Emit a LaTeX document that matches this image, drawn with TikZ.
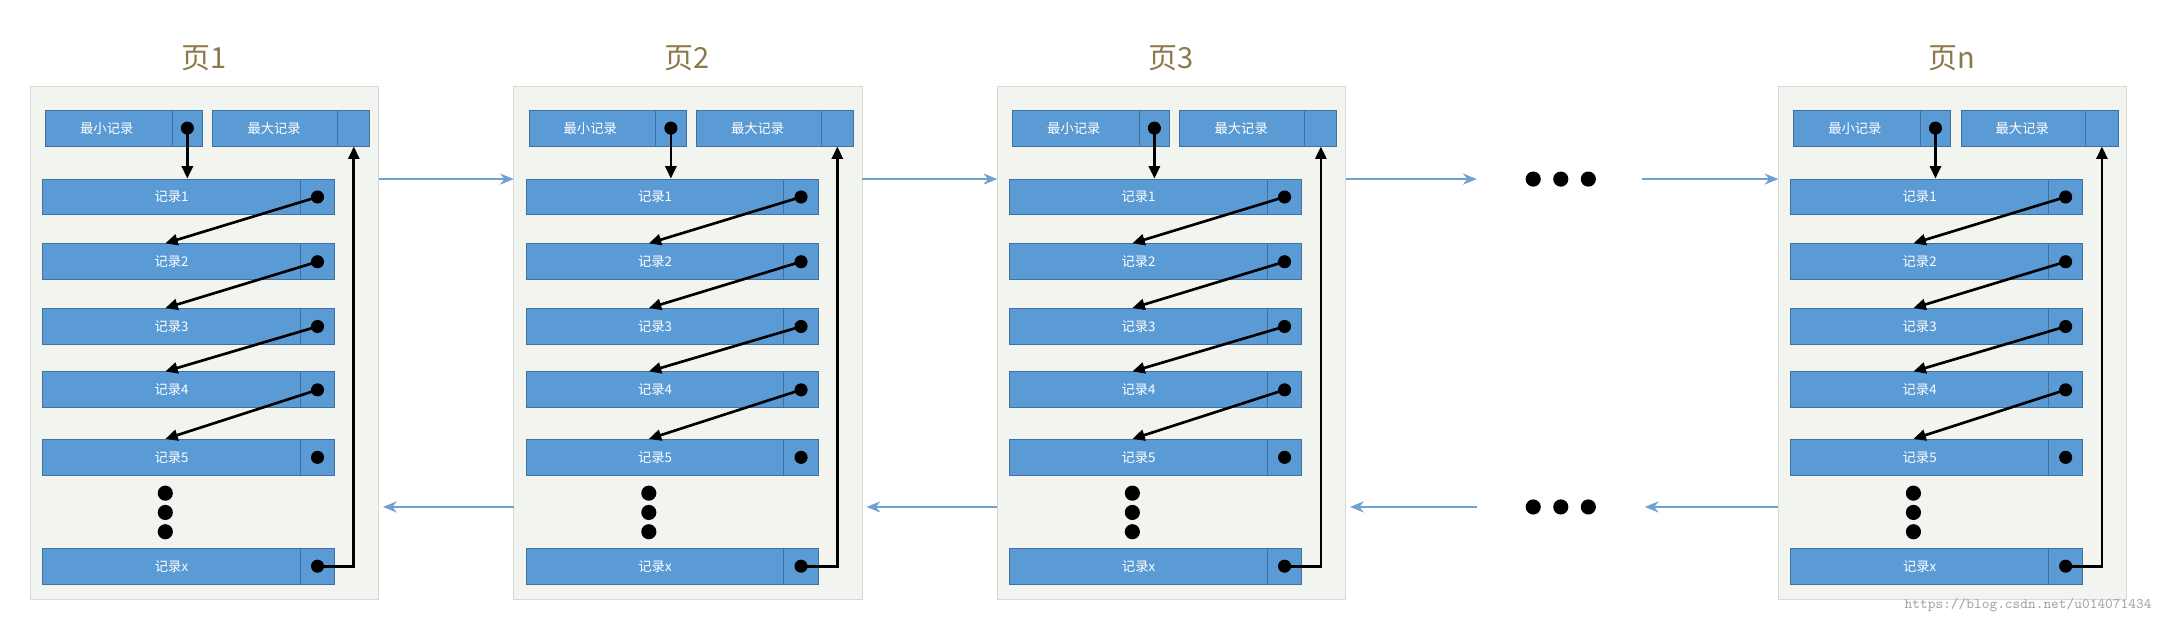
\documentclass[tikz,border=0pt]{standalone}
\usepackage{fontspec}
\setmainfont{Noto Sans CJK SC}
\usetikzlibrary{positioning,calc,arrows.meta}

\definecolor{recblue}{RGB}{91,155,213}
\definecolor{recedge}{RGB}{65,113,156}
\definecolor{pagebg}{RGB}{242,244,240}
\definecolor{pageedge}{RGB}{215,218,212}
\definecolor{linkblue}{RGB}{110,160,210}
\definecolor{titlebrown}{RGB}{140,120,75}

\tikzset{
  pagebox/.style={draw=pageedge, fill=pagebg},
  rec/.style={draw=recedge, fill=recblue, text=white, minimum width=4.24cm,
    minimum height=0.52cm, inner sep=0pt, font=\fontsize{5.5}{6}\selectfont},
  toprec/.style={rec, minimum width=2.28cm},
  ptrdot/.style={circle, fill=black, inner sep=0pt, minimum size=0.19cm},
  vdot/.style={circle, fill=black, inner sep=0pt, minimum size=0.22cm},
  ptr/.style={-{Triangle[length=0.18cm,width=0.16cm]}, line width=1.1pt},
  link/.style={-{Stealth[length=0.2cm,width=0.16cm]}, linkblue, line width=0.9pt},
  title/.style={text=titlebrown, font=\fontsize{12}{14}\selectfont},
}

% one page: #1 = x shift, #2 = title, #3 = name
\newcommand\datapage[3]{%
  \begin{scope}[xshift=#1*0.02cm]
    \draw[pagebox] (22,63) rectangle (275,435);
    \node[title] (#3t) at (148,42) {#2};
    \node[toprec] (#3min) at (90,93) {\hspace*{-0.5cm}最小记录};
    \node[toprec] (#3max) at (211.5,93) {\hspace*{-0.5cm}最大记录};
    \draw[recedge] (125,80) -- (125,106);
    \draw[recedge] (245,80) -- (245,106);
    \node[ptrdot] (#3mind) at (136,93) {};
    \foreach \i/\y in {1/143,2/190,3/237,4/283,5/332,x/411}{
      \node[rec] (#3r\i) at (137,\y) {\hspace*{-0.5cm}记录\i};
      \draw[recedge] (218,\y-13) -- (218,\y+13);
      \node[ptrdot] (#3d\i) at (230.5,\y) {};
    }
    \foreach \i/\j in {1/2,2/3,3/4,4/5}
      \draw[ptr] (#3d\i.center) -- ([xshift=-0.34cm]#3r\j.north);
    \draw[ptr] (#3mind.center) -- (#3mind |- #3r1.north);
    \coordinate (#3up) at ($(#3max.south east)+(-0.24cm,0)$);
    \draw[ptr] (#3dx.center) -| (#3up);
    \foreach \k/\y in {1/358,2/372,3/386}
      \node[vdot] (#3v\k) at (120,\y) {};
  \end{scope}}

\begin{document}
\begin{tikzpicture}[x=0.02cm, y=-0.02cm]
  \useasboundingbox (0,0) rectangle (1568,453);
  \datapage{0}{页1}{pa}
  \datapage{351}{页2}{pb}
  \datapage{702}{页3}{pc}
  \datapage{1269}{页n}{pn}
  % links between pages
  \coordinate (ra) at (275,130); \coordinate (la) at (373,130);
  \draw[link] (ra) -- (la);
  \draw[link] (626,130) coordinate (rb) -- (724,130) coordinate (lb);
  \draw[link] (977,130) coordinate (rc) -- (1072,130) coordinate (gapr);
  \draw[link] (1192,130) coordinate (gapl) -- (1291,130) coordinate (ln);
  \draw[link] (373,368) coordinate (lb2) -- (278,368) coordinate (ra2);
  \draw[link] (724,368) coordinate (lc2) -- (629,368) coordinate (rb2);
  \draw[link] (1072,368) coordinate (gapl2) -- (980,368) coordinate (rc2);
  \draw[link] (1291,368) coordinate (ln2) -- (1194,368) coordinate (gapr2);
  \foreach \x in {1113,1133,1153}{
    \node[vdot] at (\x,130) {};
    \node[vdot] at (\x,368) {};
  }
  \node[text=gray!70, font=\ttfamily\fontsize{6}{7}\selectfont, anchor=east] (mark) at (1568,439) {https://blog.csdn.net/u014071434};
\end{tikzpicture}
\end{document}
